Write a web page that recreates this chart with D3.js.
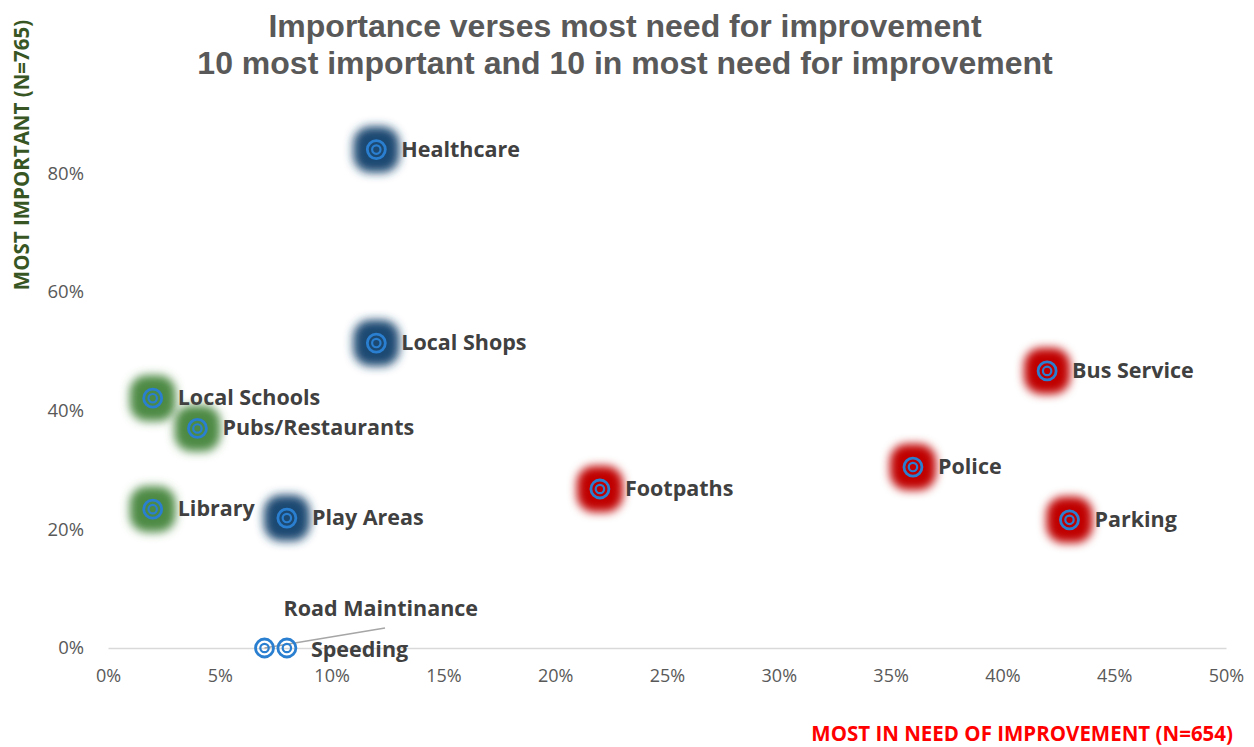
<!DOCTYPE html>
<html>
<head>
<meta charset="utf-8">
<script src="https://cdn.jsdelivr.net/npm/d3@7"></script>
<style>
  body { margin: 0; background: #fff; }
  svg { display: block; }
</style>
</head>
<body>
<script>
// Data

const items = ["Healthcare", "Local Shops", "Bus Service", "Local Schools", "Pubs/Restaurants",
  "Police", "Footpaths", "Library", "Play Areas", "Parking", "Road Maintinance", "Speeding"]
const needImprovement = [0.12, 0.12, 0.42, 0.02, 0.04, 0.36, 0.22, 0.02, 0.08, 0.43, 0.07, 0.08]
const mostImportant = [0.84, 0.514, 0.467, 0.421, 0.37, 0.305, 0.268, 0.234, 0.219, 0.216, 0, 0]
const group = ["important", "important", "improve", "both", "both", "improve", "improve", "both",
  "important", "improve", "none", "none"]

const xTicks = [0, 0.05, 0.1, 0.15, 0.2, 0.25, 0.3, 0.35, 0.4, 0.45, 0.5]
const yTicks = [0, 0.2, 0.4, 0.6, 0.8]

const glowColour = { important: "#1b4a72", improve: "#c00000", both: "#4e8a45" }

const width = 1254
const height = 747
const margin = { top: 114, right: 28, bottom: 99, left: 108 }

const svg = d3.select("body")
  .append("svg")
  .attr("width", width)
  .attr("height", height)

// Soft glow behind each marker
const defs = svg.append("defs")
defs.append("filter")
  .attr("id", "glow")
  .attr("x", "-50%").attr("y", "-50%")
  .attr("width", "200%").attr("height", "200%")
  .append("feGaussianBlur")
  .attr("stdDeviation", 5)

const x = d3.scaleLinear()
  .domain([0, 0.5])
  .range([margin.left, width - margin.right])

const y = d3.scaleLinear()
  .domain([0, 0.9])
  .range([height - margin.bottom, margin.top])

const pct = d3.format(".0%")
const tickFont = "'Open Sans', sans-serif"

// X axis (only the baseline line shows)
const axisX = svg.append("g")
  .attr("transform", `translate(0, ${y(0)})`)
  .call(d3.axisBottom(x).tickValues(xTicks).tickFormat(pct).tickSize(0).tickPadding(21))
axisX.select(".domain").attr("stroke", "#d9d9d9").attr("stroke-width", 1.5)
axisX.selectAll("text")
  .style("font-family", tickFont)
  .style("font-size", "18px")
  .attr("fill", "#595959")

// Y axis
const axisY = svg.append("g")
  .attr("transform", `translate(${margin.left}, 0)`)
  .call(d3.axisLeft(y).tickValues(yTicks).tickFormat(pct).tickSize(0).tickPadding(24))
axisY.select(".domain").remove()
axisY.selectAll("text")
  .style("font-family", tickFont)
  .style("font-size", "18.5px")
  .attr("fill", "#595959")

// Title
const title = svg.append("text")
  .attr("text-anchor", "middle")
  .style("font-family", "'Liberation Sans', Arial, sans-serif")
  .style("font-size", "32px")
  .style("font-weight", "bold")
  .attr("fill", "#595959")
title.append("tspan").attr("x", 625).attr("y", 37).text("Importance verses most need for improvement")
title.append("tspan").attr("x", 625).attr("y", 74).text("10 most important and 10 in most need for improvement")

// Axis titles
svg.append("text")
  .attr("transform", "translate(29, 155) rotate(-90)")
  .attr("text-anchor", "middle")
  .style("font-family", tickFont)
  .style("font-size", "20.5px")
  .style("font-weight", "bold")
  .attr("fill", "#375623")
  .text("MOST IMPORTANT (N=765)")

svg.append("text")
  .attr("x", 1233)
  .attr("y", 741)
  .attr("text-anchor", "end")
  .style("font-family", tickFont)
  .style("font-size", "20.5px")
  .style("font-weight", "bold")
  .attr("fill", "#ff0000")
  .text("MOST IN NEED OF IMPROVEMENT (N=654)")

const points = items.map((name, i) => ({
  name,
  x: needImprovement[i],
  y: mostImportant[i],
  group: group[i]
}))

// Glows
svg.append("g")
  .selectAll("rect")
  .data(points.filter(d => d.group !== "none"))
  .join("rect")
  .attr("x", d => x(d.x) - 23)
  .attr("y", d => y(d.y) - 23)
  .attr("width", 46)
  .attr("height", 46)
  .attr("rx", 17)
  .attr("fill", d => glowColour[d.group])
  .attr("filter", "url(#glow)")

// Leader line for Road Maintinance
svg.append("line")
  .attr("x1", x(0.07))
  .attr("y1", y(0))
  .attr("x2", 385)
  .attr("y2", 628)
  .attr("stroke", "#a6a6a6")
  .attr("stroke-width", 1.5)

// Ring markers
const markers = svg.append("g")
  .selectAll("g")
  .data(points)
  .join("g")
  .attr("transform", d => `translate(${x(d.x)}, ${y(d.y)})`)

markers.append("circle")
  .attr("r", 9)
  .attr("fill", "none")
  .attr("stroke", "#2a7fd0")
  .attr("stroke-width", 2.8)
markers.append("circle")
  .attr("r", 4.2)
  .attr("fill", "none")
  .attr("stroke", "#2a7fd0")
  .attr("stroke-width", 2.2)

// Labels
const labelOffset = {
  "Road Maintinance": [19, -32],
  "Speeding": [24, 9]
}

svg.append("g")
  .selectAll("text")
  .data(points)
  .join("text")
  .attr("x", d => x(d.x) + (labelOffset[d.name] ? labelOffset[d.name][0] : 25))
  .attr("y", d => y(d.y) + (labelOffset[d.name] ? labelOffset[d.name][1] : 7))
  .style("font-family", tickFont)
  .style("font-size", "21.5px")
  .style("font-weight", "bold")
  .attr("fill", "#404040")
  .text(d => d.name)
</script>
</body>
</html>
